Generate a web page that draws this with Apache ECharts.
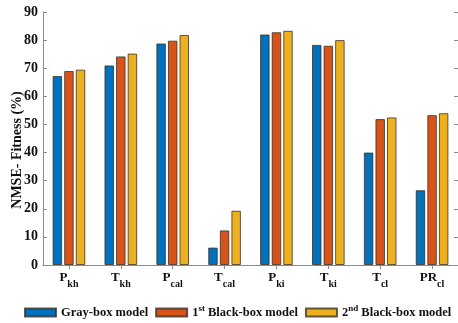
<!DOCTYPE html>
<html>
<head>
<meta charset="utf-8">
<script src="https://cdn.jsdelivr.net/npm/echarts@6/dist/echarts.min.js"></script>
<style>
  html, body { margin: 0; padding: 0; background: #fff; }
  #chart { width: 458px; height: 323px; }
</style>
</head>
<body>
<div id="chart"></div>
<script>
// Parameter names: main letter + subscript
const catMain = ['P', 'T', 'P', 'T', 'P', 'T', 'T', 'PR'];
const catSub = ['kh', 'kh', 'cal', 'cal', 'ki', 'ki', 'cl', 'cl'];
const categories = catMain.map((m, i) => m + '_' + catSub[i]);

// NMSE fitness (%) per model
const grayBox = [67.2, 71.0, 78.8, 6.2, 82.0, 78.3, 40.0, 26.6];
const blackBox1 = [69.0, 74.2, 79.8, 12.3, 82.8, 78.0, 51.9, 53.3];
const blackBox2 = [69.5, 75.2, 81.8, 19.3, 83.3, 80.0, 52.5, 54.0];

const yTicks = [0, 10, 20, 30, 40, 50, 60, 70, 80, 90];
const yTitle = 'NMSE- Fitness (%)';

const seriesNames = ['Gray-box model', '1st Black-box model', '2nd Black-box model'];
const colors = ['#0072BD', '#D95319', '#EDB120'];

const serif = '"Liberation Serif", "Times New Roman", serif';
const axisGray = '#8a8a8a';

const chart = echarts.init(document.getElementById('chart'));

const barStyle = (c) => ({
  color: c,
  borderColor: 'rgba(50,40,30,0.75)',
  borderWidth: 1
});

const option = {
  animation: false,
  backgroundColor: '#fff',
  color: colors,
  grid: { left: 43, right: -4, top: 12, bottom: 58, containLabel: false },
  // rotated y-axis title
  graphic: [{
    type: 'text',
    x: 17,
    y: 150,
    rotation: Math.PI / 2,
    style: {
      text: yTitle,
      fontFamily: serif,
      fontWeight: 'bold',
      fontSize: 14,
      fill: '#111',
      align: 'center',
      verticalAlign: 'middle'
    }
  }],
  legend: {
    bottom: 4,
    left: 24,
    width: 440,
    padding: 0,
    itemWidth: 31,
    itemHeight: 8,
    itemGap: 7,
    icon: 'rect',
    data: seriesNames,
    formatter: function (name) {
      if (name.startsWith('1st')) return '{t|1}{p|st}{t| Black-box model}';
      if (name.startsWith('2nd')) return '{t|2}{p|nd}{t| Black-box model}';
      return '{t|' + name + '}';
    },
    textStyle: {
      rich: {
        t: { fontFamily: serif, fontWeight: 'bold', fontSize: 12.5, color: '#111' },
        p: { fontFamily: serif, fontWeight: 'bold', fontSize: 9, color: '#111', padding: [0, 0, 8, 0] }
      }
    }
  },
  xAxis: [
    {
      type: 'category',
      data: categories,
      axisLine: { lineStyle: { color: axisGray, width: 1 } },
      axisTick: { show: true, inside: true, alignWithLabel: true, length: 4, lineStyle: { color: axisGray } },
      axisLabel: {
        interval: 0,
        margin: 1,
        formatter: function (v) {
          const parts = v.split('_');
          return '{b|' + parts[0] + '}{s|' + parts[1] + '}';
        },
        rich: {
          b: { fontFamily: serif, fontWeight: 'bold', fontSize: 13, color: '#111' },
          s: { fontFamily: serif, fontWeight: 'bold', fontSize: 10, color: '#111', padding: [13, 0, 0, 0] }
        }
      }
    },
    {
      type: 'category',
      position: 'top',
      data: categories,
      axisLine: { lineStyle: { color: axisGray, width: 1 } },
      axisTick: { show: true, inside: true, alignWithLabel: true, length: 4, lineStyle: { color: axisGray } },
      axisLabel: { show: false }
    }
  ],
  yAxis: [
    {
      type: 'value',
      min: 0,
      max: 90,
      interval: 10,
      axisLine: { show: true, lineStyle: { color: axisGray, width: 1 } },
      axisTick: { show: true, inside: true, length: 4, lineStyle: { color: axisGray } },
      axisLabel: {
        margin: 5,
        fontFamily: serif, fontWeight: 'bold', fontSize: 14, color: '#111',
        formatter: function (v) { return yTicks.includes(v) ? String(v) : ''; }
      },
      splitLine: { show: false }
    },
    {
      type: 'value',
      position: 'right',
      min: 0,
      max: 90,
      interval: 10,
      axisLine: { show: true, lineStyle: { color: axisGray, width: 1 } },
      axisTick: { show: true, inside: true, length: 4, lineStyle: { color: axisGray } },
      axisLabel: { show: false },
      splitLine: { show: false }
    }
  ],
  series: [
    { name: seriesNames[0], type: 'bar', data: grayBox, barWidth: 9.5, barGap: '22%', itemStyle: barStyle(colors[0]) },
    { name: seriesNames[1], type: 'bar', data: blackBox1, barWidth: 9.5, barGap: '22%', itemStyle: barStyle(colors[1]) },
    { name: seriesNames[2], type: 'bar', data: blackBox2, barWidth: 9.5, barGap: '22%', itemStyle: barStyle(colors[2]) }
  ]
};

chart.setOption(option);
</script>
</body>
</html>
